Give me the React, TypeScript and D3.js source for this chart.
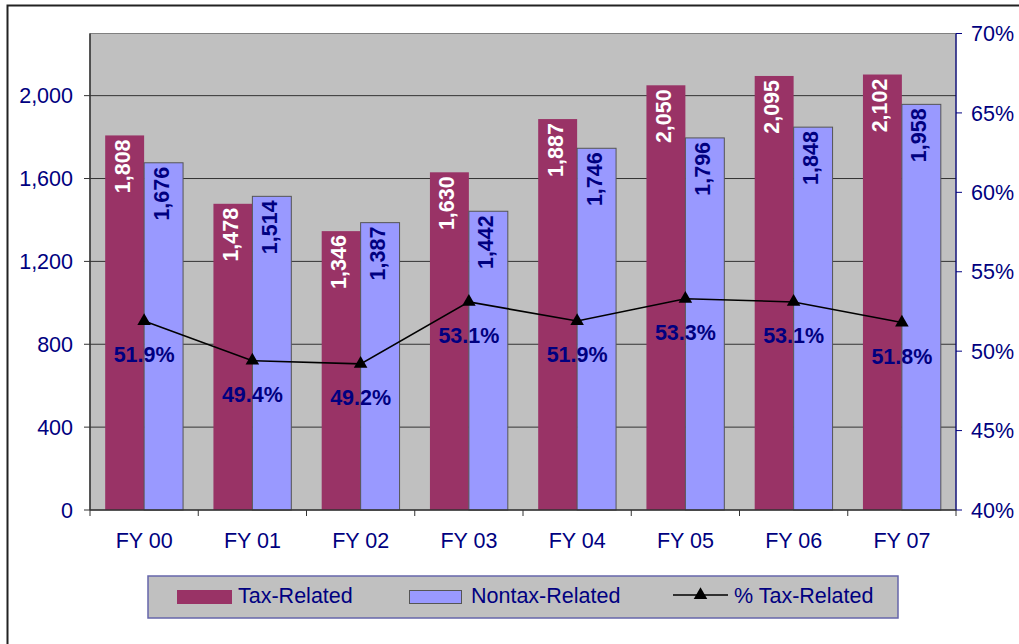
import React from "react";
import * as d3 from "d3";

const categories = ["FY 00", "FY 01", "FY 02", "FY 03", "FY 04", "FY 05", "FY 06", "FY 07"];
const taxRelated = [1808, 1478, 1346, 1630, 1887, 2050, 2095, 2102];
const nontaxRelated = [1676, 1514, 1387, 1442, 1746, 1796, 1848, 1958];
const pctTaxRelated = [0.519, 0.494, 0.492, 0.531, 0.519, 0.533, 0.531, 0.518];
const leftTicks = [0, 400, 800, 1200, 1600, 2000];
const rightTicks = [0.4, 0.45, 0.5, 0.55, 0.6, 0.65, 0.7];
const seriesNames = ["Tax-Related", "Nontax-Related"];

const W = 1019, H = 644;
const PL = 90, PR = 956, PT = 33.5, PB = 510;
const NAVY = "#000080";
const TAX = "#993366";
const NONTAX = "#9999FF";
const FONT = "'Liberation Sans', Arial, sans-serif";
const FS = 21.5;

export default function App() {
  const x0 = d3.scaleBand<string>().domain(categories).range([PL, PR]).padding(0);
  const x1 = d3.scaleBand<string>().domain(seriesNames).range([0, x0.bandwidth()]).paddingInner(0).paddingOuter(0.39);
  const yL = d3.scaleLinear().domain([0, 2300]).range([PB, PT]);
  const yR = d3.scaleLinear().domain([0.4, 0.7]).range([PB, PT]);
  const fmtN = d3.format(",");
  const fmtP = d3.format(".1%");
  const fmtAx = d3.format(".0%");
  const cx = (c: string) => (x0(c) as number) + x0.bandwidth() / 2;
  const line = d3.line<number>().x((_, i) => cx(categories[i])).y((d) => yR(d));
  const tri = d3.symbol().type(d3.symbolTriangle).size(80)();

  return (
    <svg width={W} height={H} style={{ position: "absolute", left: 0, top: 0 }} fontFamily={FONT}>
      <rect x={0} y={0} width={W} height={H} fill="#fff" />
      <rect x={7.5} y={5.5} width={W + 20} height={H + 20} fill="none" stroke="#222" strokeWidth={2} />
      {/* plot area */}
      <rect x={PL} y={PT} width={PR - PL} height={PB - PT} fill="#C0C0C0" stroke="#808080" strokeWidth={1} />
      {leftTicks.filter((t) => t > 0).map((t) => (
        <line key={t} x1={PL} x2={PR} y1={yL(t)} y2={yL(t)} stroke="#333" strokeWidth={1} />
      ))}
      {/* bars */}
      {categories.map((c, i) => {
        const bx = x0(c) as number;
        const tx = bx + (x1("Tax-Related") as number);
        const nx = bx + (x1("Nontax-Related") as number);
        const bw = x1.bandwidth();
        return (
          <g key={c}>
            <rect x={tx} y={yL(taxRelated[i])} width={bw} height={PB - yL(taxRelated[i])} fill={TAX} />
            <rect x={nx} y={yL(nontaxRelated[i])} width={bw} height={PB - yL(nontaxRelated[i])} fill={NONTAX} stroke="#555" strokeWidth={1} />
          </g>
        );
      })}
      {/* axes */}
      <line x1={PL} x2={PL} y1={PT} y2={PB} stroke="#333" strokeWidth={1.5} />
      <line x1={PR} x2={PR} y1={PT} y2={PB} stroke={NAVY} strokeWidth={1.2} />
      <line x1={PL} x2={PR} y1={PB} y2={PB} stroke="#333" strokeWidth={1.5} />
      {leftTicks.map((t) => (
        <g key={t}>
          <line x1={PL - 6} x2={PL} y1={yL(t)} y2={yL(t)} stroke="#333" strokeWidth={1} />
          <text x={73} y={yL(t)} dy="0.36em" textAnchor="end" fontSize={FS} fill={NAVY}>{fmtN(t)}</text>
        </g>
      ))}
      {rightTicks.map((t) => (
        <g key={t}>
          <line x1={PR} x2={PR + 6} y1={yR(t)} y2={yR(t)} stroke={NAVY} strokeWidth={1} />
          <text x={971} y={yR(t)} dy="0.36em" textAnchor="start" fontSize={FS} fill={NAVY}>{fmtAx(t)}</text>
        </g>
      ))}
      {categories.concat(["end"]).map((c, i) => {
        const xx = PL + i * x0.step();
        return <line key={c} x1={xx} x2={xx} y1={PB} y2={PB + 6} stroke="#333" strokeWidth={1} />;
      })}
      {categories.map((c) => (
        <text key={c} x={cx(c)} y={548} textAnchor="middle" fontSize={FS} fill={NAVY}>{c}</text>
      ))}
      {/* bar labels */}
      {categories.map((c, i) => {
        const bx = x0(c) as number;
        const bw = x1.bandwidth();
        const tcx = bx + (x1("Tax-Related") as number) + bw / 2 + 5;
        const ncx = bx + (x1("Nontax-Related") as number) + bw / 2 + 5;
        const ty = yL(taxRelated[i]) + 4;
        const ny = yL(nontaxRelated[i]) + 4;
        return (
          <g key={c} fontSize={FS} fontWeight="bold">
            <text transform={`translate(${tcx},${ty}) rotate(-90)`} textAnchor="end" fill="#fff">{fmtN(taxRelated[i])}</text>
            <text transform={`translate(${ncx},${ny}) rotate(-90)`} textAnchor="end" fill={NAVY}>{fmtN(nontaxRelated[i])}</text>
          </g>
        );
      })}
      {/* line */}
      <path d={line(pctTaxRelated) as string} fill="none" stroke="#000" strokeWidth={1.6} />
      {pctTaxRelated.map((p, i) => (
        <path key={i} d={tri as string} transform={`translate(${cx(categories[i])},${yR(p)})`} fill="#000" />
      ))}
      {pctTaxRelated.map((p, i) => (
        <text key={i} x={cx(categories[i])} y={yR(p) + 41} textAnchor="middle" fontSize={FS} fontWeight="bold" fill={NAVY}>{fmtP(p)}</text>
      ))}
      {/* legend */}
      <rect x={148} y={576} width={750} height={42} fill="#C0C0C0" stroke="#6666AA" strokeWidth={1.5} />
      <rect x={177} y={590} width={55} height={14} fill={TAX} />
      <text x={238} y={602.5} fontSize={FS} fill={NAVY}>Tax-Related</text>
      <rect x={409.5} y={590.5} width={52} height={13} fill={NONTAX} stroke="#555" strokeWidth={1} />
      <text x={471} y={602.5} fontSize={FS} fill={NAVY}>Nontax-Related</text>
      <line x1={673} x2={728} y1={595} y2={595} stroke="#000" strokeWidth={1.6} />
      <path d={tri as string} transform="translate(700.5,595)" fill="#000" />
      <text x={734} y={602.5} fontSize={FS} fill={NAVY}>% Tax-Related</text>
    </svg>
  );
}
